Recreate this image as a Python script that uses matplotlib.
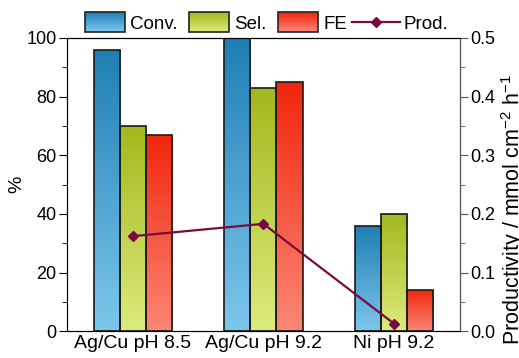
import numpy as np
import matplotlib.pyplot as plt
from matplotlib.colors import LinearSegmentedColormap
from matplotlib.patches import Rectangle
from matplotlib.lines import Line2D
from matplotlib.legend_handler import HandlerBase
from matplotlib.ticker import MultipleLocator

plt.rcParams['font.family'] = ['Liberation Sans', 'DejaVu Sans']
plt.rcParams['mathtext.fontset'] = 'custom'
plt.rcParams['mathtext.rm'] = 'Liberation Sans'

groups = ['Ag/Cu pH 8.5', 'Ag/Cu pH 9.2', 'Ni pH 9.2']
conv = [96, 100, 36]
sel = [70, 83, 40]
fe = [67, 85, 14]
prod = [0.162, 0.183, 0.013]

series = ['Conv.', 'Sel.', 'FE']
# (top colour, bottom colour) of each gradient
grads = [('#1f7fb4', '#7cc6ec'),
         ('#a2b81c', '#dceb7c'),
         ('#f2260c', '#fa8674')]
line_color = '#7a0a40'
LEG_FS = 13.5


class GradHandler(HandlerBase):
    # gradient box, taller than the text line
    def __init__(self, top, bottom):
        super().__init__()
        self.cmap = LinearSegmentedColormap.from_list('g', [bottom, top])

    def create_artists(self, legend, orig, x0, y0, w, h, fs, trans):
        bh = 14.4  # points
        yb = y0 + h / 2 - bh / 2
        n = 20
        arts = []
        for i in range(n):
            r = Rectangle((x0, yb + bh * i / n), w, bh / n + 0.3,
                          fc=self.cmap(i / (n - 1)), ec='none', transform=trans)
            arts.append(r)
        arts.append(Rectangle((x0, yb), w, bh, fc='none', ec='#222222',
                              lw=1.2, transform=trans))
        return arts


class LongLineHandler(HandlerBase):
    def create_artists(self, legend, orig, x0, y0, w, h, fs, trans):
        yc = y0 + h / 2
        xs = [x0 - 5, x0 + w + 1]
        ln = Line2D(xs, [yc, yc], color=line_color, lw=1.6, transform=trans)
        mk = Line2D([np.mean(xs)], [yc], color=line_color, marker='D', ms=5,
                    ls='none', transform=trans)
        return [ln, mk]


fig = plt.figure(figsize=(5.19, 3.58), dpi=100)
ax = fig.add_axes([0.129, 0.075, 0.757, 0.819])
ax2 = ax.twinx()

x = np.arange(len(groups))
w = 0.2

for k, vals in enumerate([conv, sel, fe]):
    cmap = LinearSegmentedColormap.from_list('g%d' % k, [grads[k][1], grads[k][0]])
    for xi, v in zip(x, vals):
        left = xi + (k - 1) * w - w / 2
        rect = Rectangle((left, 0), w, v, fc='none', ec='#1a1a1a', lw=1.2, zorder=3)
        ax.add_patch(rect)
        grad = np.linspace(0, 1, 100).reshape(-1, 1)
        im = ax.imshow(grad, cmap=cmap, origin='lower', aspect='auto',
                       extent=[left, left + w, 0, v], zorder=2)
        im.set_clip_path(rect)

ax.set_xlim(-0.506, 2.506)
ax.set_ylim(0, 100)

ax2.plot(x, prod, color=line_color, lw=1.6, marker='D', ms=5.5, zorder=5)
ax2.set_ylim(0, 0.5)

ax.set_xticks(x)
ax.set_xticklabels(groups, fontsize=14)
ax.tick_params(axis='x', length=0, pad=3)
ax.yaxis.set_major_locator(MultipleLocator(20))
ax.yaxis.set_minor_locator(MultipleLocator(10))
ax.tick_params(axis='y', which='major', length=6, labelsize=13, pad=1.5)
ax.tick_params(axis='y', which='minor', length=3.5)
ax.set_ylabel('%', fontsize=14)
ax.yaxis.set_label_coords(-0.107, 0.5)

ax2.yaxis.set_major_locator(MultipleLocator(0.1))
ax2.yaxis.set_minor_locator(MultipleLocator(0.05))
ax2.yaxis.set_major_formatter(plt.FormatStrFormatter('%.1f'))
ax2.tick_params(axis='y', which='major', length=6, labelsize=13, pad=1.5,
                color='#555555')
ax2.tick_params(axis='y', which='minor', length=3.5, color='#555555')
ax2.set_ylabel('Productivity / mmol cm$^{-2}$ h$^{-1}$', fontsize=15.5,
               va='center')
ax2.yaxis.set_label_coords(1.135, 0.414)
ax2.spines['right'].set_color('#555555')

handles = [Rectangle((0, 0), 1, 1) for _ in series]
handles.append(Line2D([], []))
hmap = {h: GradHandler(*g) for h, g in zip(handles[:3], grads)}
hmap[handles[3]] = LongLineHandler()
fig.legend(handles, series + ['Prod.'], handler_map=hmap, loc='center left',
           bbox_to_anchor=(85 / 519, 1 - 24 / 358), ncol=4, frameon=False,
           fontsize=LEG_FS, handlelength=2.13, handleheight=0.7,
           handletextpad=0.27, columnspacing=0.62, borderaxespad=0,
           borderpad=0)

fig.savefig('out.png', dpi=100)
